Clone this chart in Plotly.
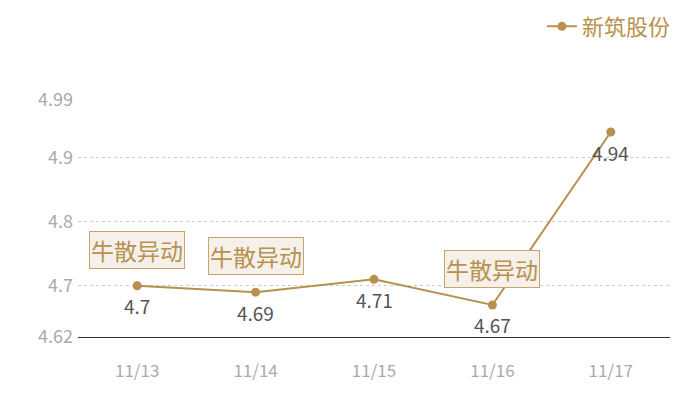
import plotly.graph_objects as go

dates = ["11/13", "11/14", "11/15", "11/16", "11/17"]
prices = [4.70, 4.69, 4.71, 4.67, 4.94]
price_labels = ["4.7", "4.69", "4.71", "4.67", "4.94"]
event_dates = ["11/13", "11/14", "11/16"]
event_prices = [4.70, 4.69, 4.67]
event_text = "牛散异动"
y_ticks = [4.62, 4.7, 4.8, 4.9, 4.99]
y_tick_text = ["4.62", "4.7", "4.8", "4.9", "4.99"]

gold = "#b8914e"
font = "Noto Sans CJK SC"

fig = go.Figure()
fig.add_trace(go.Scatter(
    x=dates, y=prices, mode="lines+markers", name="新筑股份",
    line=dict(color=gold, width=2),
    marker=dict(color=gold, size=9),
))

# value labels under each point
for d, p, t in zip(dates, prices, price_labels):
    fig.add_annotation(
        x=d, y=p, text=t, showarrow=False, yshift=-20,
        font=dict(color="#555555", size=19, family=font),
    )

for d, p in zip(event_dates, event_prices):
    fig.add_annotation(
        x=d, y=p, text=event_text, showarrow=False, yshift=36,
        font=dict(color=gold, size=23, family=font),
        bgcolor="#f5f0ea", bordercolor="#c8a46a", borderwidth=1, borderpad=1,
    )

# page body adds an 8px offset, so the figure is a bit smaller
fig.update_layout(
    width=692, height=392,
    margin=dict(l=70, r=30, t=92, b=63, autoexpand=False),
    plot_bgcolor="white", paper_bgcolor="white",
    font=dict(family=font),
    showlegend=True,
    legend=dict(
        orientation="h", x=1.01, xanchor="right", y=1.31, yanchor="middle",
        font=dict(color=gold, size=22, family=font),
        itemwidth=30,
    ),
    xaxis=dict(
        type="category", range=[-0.5, 4.5], showgrid=False,
        showline=True, linecolor="#333333", linewidth=1,
        ticks="", ticklabelstandoff=19,
        tickfont=dict(color="#aaaaaa", size=17, family=font),
    ),
    yaxis=dict(
        range=[4.62, 4.99], tickvals=y_ticks, ticktext=y_tick_text,
        showgrid=True, gridcolor="#cccccc", griddash="dot", gridwidth=1,
        zeroline=False, showline=False, ticks="", ticklabelstandoff=4,
        tickfont=dict(color="#aaaaaa", size=18, family=font),
    ),
)

fig.write_html("out.html")
